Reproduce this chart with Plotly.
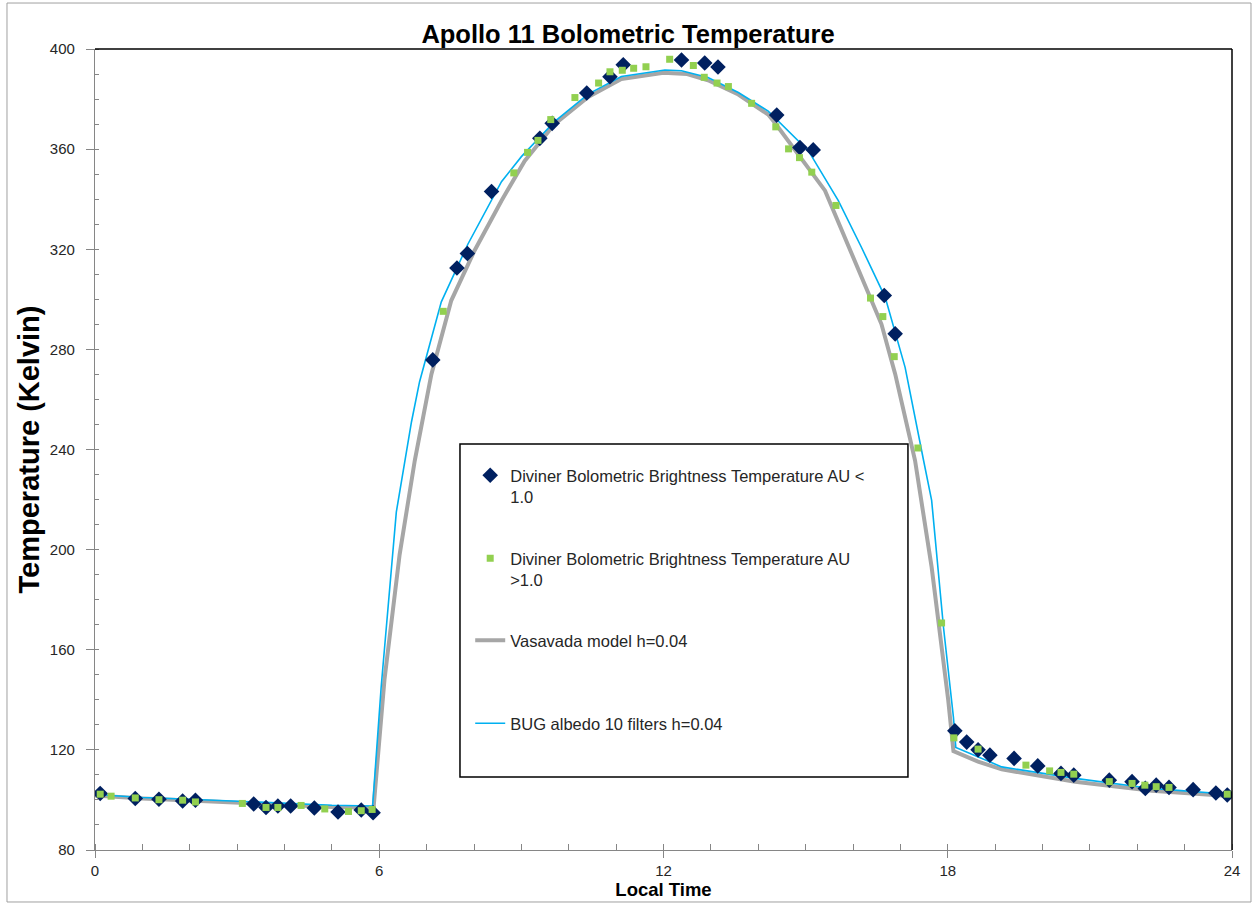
import plotly.graph_objects as go

# ---- Data ----
# Diviner AU < 1.0 (navy diamonds)
lt_time = [0.11, 0.85, 1.35, 1.85, 2.12, 3.35, 3.61, 3.86, 4.13, 4.63, 5.13, 5.62, 5.87,
           7.13, 7.64, 7.86, 8.37, 9.39, 9.65, 10.38, 10.87, 11.15, 12.38, 12.87, 13.15,
           14.39, 14.88, 15.16, 16.66, 16.89,
           18.15, 18.40, 18.64, 18.89, 19.40, 19.90, 20.39, 20.66, 21.41, 21.89, 22.17,
           22.40, 22.67, 23.18, 23.66, 23.90]
lt_temp = [102.6, 100.6, 100.3, 99.6, 99.9, 98.4, 97.0, 97.6, 97.6, 96.8, 95.2, 96.0, 94.9,
           275.8, 312.5, 318.3, 343.1, 364.3, 370.3, 382.4, 388.9, 393.7, 395.6, 394.4, 392.8,
           373.6, 360.6, 359.7, 301.5, 286.2,
           127.6, 123.1, 120.0, 117.9, 116.6, 113.6, 110.6, 109.9, 107.9, 107.3, 104.6,
           105.9, 105.0, 104.1, 102.8, 102.0]

# Diviner AU > 1.0 (green squares)
gt_time = [0.11, 0.34, 0.85, 1.35, 1.85, 2.12, 3.11, 3.61, 3.86, 4.35, 4.85, 5.35, 5.62, 5.85,
           7.35, 8.84, 9.13, 9.35, 9.62, 10.13, 10.63, 10.87, 11.13, 11.37, 11.63, 12.13,
           12.63, 12.86, 13.13, 13.37, 13.86, 14.37, 14.64, 14.87, 15.13, 15.64, 16.37,
           16.63, 16.87, 17.37, 17.87,
           18.13, 18.64, 19.65, 20.15, 20.39, 20.66, 21.41, 21.89, 22.16, 22.40, 22.67, 23.90]
gt_temp = [102.3, 101.5, 100.8, 100.1, 99.9, 99.2, 98.6, 97.0, 97.0, 97.8, 96.4, 95.4, 95.7, 96.2,
           295.2, 350.5, 358.7, 363.5, 371.8, 380.6, 386.4, 390.9, 391.5, 392.3, 392.9, 395.9,
           393.4, 388.7, 386.4, 385.0, 378.3, 368.9, 360.1, 356.6, 350.8, 337.5, 300.5,
           293.1, 277.1, 240.6, 170.7,
           124.8, 120.3, 113.9, 111.6, 111.0, 110.3, 107.3, 106.6, 105.9, 105.3, 105.0, 102.3]

# Vasavada model h=0.04 (gray line)
vas_time = [0, 1, 2, 3, 4, 5, 5.88, 6.11, 6.43, 6.63, 6.75, 7.1, 7.52, 8.01, 8.58, 9.07, 9.7,
            10.41, 11.11, 12.0, 12.5, 12.94, 13.58, 14.21, 14.35, 15.41, 16.33, 16.6, 16.89,
            17.31, 17.66, 18.01, 18.12, 18.64, 19.14, 20.69, 22.31, 24]
vas_temp = [101.8, 100.6, 99.8, 98.8, 97.9, 97.2, 96.9, 148, 198, 222, 235.6, 270, 299.5, 319.4,
            339.4, 355.3, 370, 380.8, 388, 390.5, 390, 387.5, 381.8, 373.8, 370.5, 343.4, 302.1,
            290.1, 270.2, 235.6, 193, 139.9, 119.5, 115.3, 112.2, 107.3, 103.7, 101.5]

# BUG albedo 10 filters h=0.04 (blue line)
bug_time = [0, 1, 2, 3, 4, 5, 5.86, 6.04, 6.36, 6.68, 6.85, 7.31, 7.87, 8.58, 9.0, 9.7, 10.41,
            11.11, 12.03, 12.38, 12.94, 13.58, 14.21, 15.06, 15.69, 16.18, 16.68, 17.1, 17.49,
            17.66, 17.91, 18.12, 18.17, 18.64, 19.14, 20.69, 22.31, 24]
bug_temp = [102.2, 101.0, 100.3, 99.4, 98.6, 97.9, 97.6, 145, 215, 251, 267, 299, 322, 347, 357,
            371, 382, 389, 391.6, 391.3, 388.6, 382.6, 375.2, 359.3, 339.4, 320.7, 300.8, 272.8,
            235.6, 219.7, 169, 133, 121, 117.2, 113.2, 108.6, 104.6, 102.2]

x_ticks = [0, 6, 12, 18, 24]
y_ticks = [80, 120, 160, 200, 240, 280, 320, 360, 400]

FONT = "Liberation Sans, Arial, sans-serif"

fig = go.Figure()
fig.add_trace(go.Scatter(x=vas_time, y=vas_temp, mode="lines",
                         name="Vasavada model h=0.04",
                         line=dict(color="#A6A6A6", width=4), legend="legend3"))
fig.add_trace(go.Scatter(x=bug_time, y=bug_temp, mode="lines",
                         name="BUG albedo 10 filters h=0.04",
                         line=dict(color="#00B0F0", width=1.6), legend="legend4"))
fig.add_trace(go.Scatter(x=lt_time, y=lt_temp, mode="markers",
                         name="Diviner Bolometric Brightness Temperature AU &lt;<br>1.0",
                         marker=dict(symbol="diamond", size=12, color="#002060"),
                         legend="legend", showlegend=True))
fig.add_trace(go.Scatter(x=gt_time, y=gt_temp, mode="markers",
                         name="Diviner Bolometric Brightness Temperature AU<br>&gt;1.0",
                         marker=dict(symbol="square", size=7, color="#92D050"),
                         legend="legend2"))

leg_common = dict(x=0.33, xanchor="left", yanchor="top", bgcolor="rgba(0,0,0,0)",
                  borderwidth=0, font=dict(family=FONT, size=16.5, color="#262626"))

fig.update_layout(
    width=1253, height=905,
    showlegend=True,
    margin=dict(l=95, r=21, t=49, b=55),
    paper_bgcolor="white", plot_bgcolor="white",
    title=dict(text="<b>Apollo 11 Bolometric Temperature</b>",
               font=dict(family=FONT, size=25.5, color="black"),
               x=0.4688, xref="paper", xanchor="center",
               y=1 - 34 / 905, yref="container", yanchor="middle"),
    legend=dict(y=0.4894, valign="top", **leg_common),
    legend2=dict(y=0.3858, valign="top", **leg_common),
    legend3=dict(y=0.2835, **leg_common),
    legend4=dict(y=0.1798, **leg_common),
    xaxis=dict(range=[0, 24], tickvals=x_ticks, ticks="outside", ticklen=7,
               tickcolor="#868686", showline=True, linecolor="#868686", linewidth=1.3,
               showgrid=False, zeroline=False,
               minor=dict(dtick=1, ticks="inside", ticklen=6, tickcolor="#868686", showgrid=False),
               tickfont=dict(family=FONT, size=15, color="#262626"),
               title=dict(text="<b>Local Time</b>", standoff=2,
                          font=dict(family=FONT, size=18.5, color="black"))),
    yaxis=dict(range=[80, 400], tickvals=y_ticks, ticks="outside", ticklen=8,
               tickcolor="#868686", showline=True, linecolor="#868686", linewidth=1.3,
               showgrid=False, zeroline=False, ticklabelstandoff=8,
               minor=dict(dtick=10, ticks="inside", ticklen=4, tickcolor="#868686", showgrid=False),
               tickfont=dict(family=FONT, size=15, color="#262626"),
               title=dict(text="<b>Temperature (Kelvin)</b>", standoff=1,
                          font=dict(family=FONT, size=29, color="black"))),
    shapes=[
        # plot-area top and right border
        dict(type="line", xref="paper", yref="paper", x0=0, x1=1, y0=1, y1=1,
             line=dict(color="black", width=1.5)),
        dict(type="line", xref="paper", yref="paper", x0=1, x1=1, y0=0, y1=1,
             line=dict(color="black", width=1.5)),
        # legend box
        dict(type="rect", xref="paper", yref="paper", x0=0.321, x1=0.715, y0=0.0911, y1=0.507,
             line=dict(color="black", width=1.5), fillcolor="white", layer="below"),
        # outer chart border
        dict(type="rect", xref="paper", yref="paper", x0=-0.0774, x1=1.0167, y0=-0.0649, y1=1.0574,
             line=dict(color="#A0A0A0", width=1), layer="below"),
    ],
)

fig.write_html("out.html")
